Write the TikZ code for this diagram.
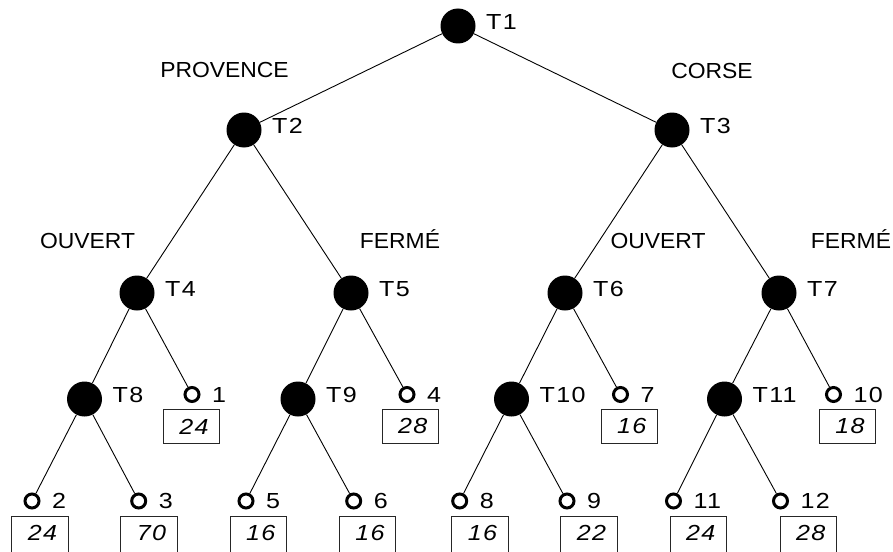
\documentclass[tikz,border=0pt]{standalone}
\usepackage{fontspec}
\setmainfont[FakeStretch=1.05]{Liberation Sans}
\newfontfamily\numfont[FakeStretch=1.15,LetterSpace=6]{Liberation Sans}
\newcommand{\lab}{\fontsize{21.8}{26}\selectfont}
\newcommand{\numlab}{\numfont\fontsize{21.8}{26}\selectfont}
\begin{document}
\begin{tikzpicture}[x=1pt,y=-1pt,
  big/.style={circle,fill=black,minimum size=35pt,inner sep=0pt},
  leaf/.style={circle,draw=black,line width=3pt,fill=white,minimum size=14pt,inner sep=0pt},
  edge/.style={line width=0.9pt},
  tlab/.style={anchor=west,inner sep=0pt,font=\numlab},
  branch/.style={anchor=base,inner sep=0pt,font=\lab},
  valbox/.style={minimum width=56pt,minimum height=34pt,inner sep=0pt,anchor=north west,font=\numlab\itshape},
  boxline/.style={draw=black!85,line width=0.8pt}
]
\useasboundingbox (0,0) rectangle (893,551);
\clip (0,0) rectangle (893,551);

% decision nodes
\node[big] (T1) at (458,26) {};
\node[big] (T2) at (244,130) {};
\node[big] (T3) at (672,130) {};
\node[big] (T4) at (137,293) {};
\node[big] (T5) at (351,293) {};
\node[big] (T6) at (565,293) {};
\node[big] (T7) at (779,293) {};
\node[big] (T8) at (84.5,399) {};
\node[big] (T9) at (298,399) {};
\node[big] (T10) at (511.5,399) {};
\node[big] (T11) at (724.5,399) {};

% leaves
\node[leaf] (L1) at (192,394.5) {};
\node[leaf] (L4) at (407,394.5) {};
\node[leaf] (L7) at (620.5,394.5) {};
\node[leaf] (L10) at (833.5,394.5) {};
\node[leaf] (L2) at (32,501) {};
\node[leaf] (L3) at (138.7,501) {};
\node[leaf] (L5) at (246,501) {};
\node[leaf] (L6) at (353.7,501) {};
\node[leaf] (L8) at (459.7,501) {};
\node[leaf] (L9) at (567,501) {};
\node[leaf] (L11) at (673.5,501) {};
\node[leaf] (L12) at (780.5,501) {};

% edges
\draw[edge] (T1) -- (T2);
\draw[edge] (T1) -- (T3);
\draw[edge] (T2) -- (T4);
\draw[edge] (T2) -- (T5);
\draw[edge] (T3) -- (T6);
\draw[edge] (T3) -- (T7);
\draw[edge] (T4) -- (T8);
\draw[edge] (T4) -- (L1);
\draw[edge] (T5) -- (T9);
\draw[edge] (T5) -- (L4);
\draw[edge] (T6) -- (T10);
\draw[edge] (T6) -- (L7);
\draw[edge] (T7) -- (T11);
\draw[edge] (T7) -- (L10);
\draw[edge] (T8) -- (L2);
\draw[edge] (T8) -- (L3);
\draw[edge] (T9) -- (L5);
\draw[edge] (T9) -- (L6);
\draw[edge] (T10) -- (L8);
\draw[edge] (T10) -- (L9);
\draw[edge] (T11) -- (L11);
\draw[edge] (T11) -- (L12);

% decision labels
\foreach \n/\x/\y in {T1/458/26,T2/244/130,T3/672/130,T4/137/293,T5/351/293,T6/565/293,T7/779/293,T8/84.5/399,T9/298/399,T10/511.5/399,T11/724.5/399}
  \node[tlab] (lab\n) at (\x+28,\y-4) {\n};

% leaf labels
\foreach \n/\x/\y in {1/192/394.5,4/407/394.5,7/620.5/394.5,10/833.5/394.5,2/32/501,3/138.7/501,5/246/501,6/353.7/501,8/459.7/501,9/567/501,11/673.5/501,12/780.5/501}
  \node[tlab] (leaflab\n) at (\x+20,\y) {\n};

% branch labels
\node[branch] (provence) at (224.5,77.3) {PROVENCE};
\node[branch] (corse) at (712,78.3) {CORSE};
\node[branch] (ouvertA) at (87.5,248.3) {OUVERT};
\node[branch] (fermeA) at (400,248.3) {FERMÉ};
\node[branch] (ouvertB) at (658,248.3) {OUVERT};
\node[branch] (fermeB) at (851,248.3) {FERMÉ};

% value boxes (upper row)
\foreach \n/\x/\v in {1/163/24,4/381.7/28,7/600.7/16,10/819/18}
  \node[valbox,boxline] (B\n) at (\x,409) {\hspace{5pt}\v};

% value boxes (lower row, cut by the picture edge)
\foreach \n/\x/\v in {2/11.7/24,3/120.7/70,5/230/16,6/339.3/16,8/451.7/16,9/560.7/22,11/670/24,12/780/28} {
  \node[valbox] (B\n) at (\x,516) {\hspace{5pt}\v};
  \draw[boxline] (B\n.north west) rectangle ([yshift=-12pt]B\n.south east);
}
\end{tikzpicture}
\end{document}
